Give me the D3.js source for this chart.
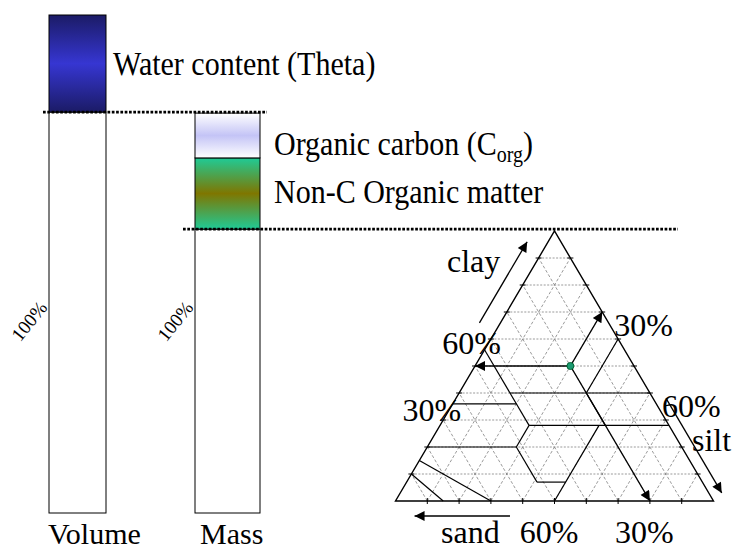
<!DOCTYPE html>
<html>
<head>
<meta charset="utf-8">
<script src="https://cdn.jsdelivr.net/npm/d3@7/dist/d3.min.js"></script>
<style>
  body { margin: 0; background: #fff; }
  text { font-family: "Liberation Serif", "Times New Roman", serif; fill: #000; }
</style>
</head>
<body>
<div class="chart"></div>
<script>
// column compositions, in % of the full volume column height
var volumeParts = [
    {name: "solid", value: 80.5},
    {name: "water", value: 19.5}
];
var massParts = [
    {name: "mineral", value: 57},
    {name: "nonC", value: 14.3},
    {name: "corg", value: 9}
];
var barNames = ["Volume", "Mass"];
var partLabels = [
    {part: "water", text: "Water content (Theta)"},
    {part: "corg", text: "Organic carbon (C", sub: "org", tail: ")"},
    {part: "nonC", text: "Non-C Organic matter"}
];

// texture triangle, points are [sand, silt, clay] in %
var gridSteps = [10, 20, 30, 40, 50, 60, 70, 80, 90];
var classLines = [
    [[44, 0, 56], [44, 28, 28]],
    [[44, 16, 40], [0, 60, 40]],
    [[64, 0, 36], [44, 20, 36]],
    [[44, 28, 28], [0, 72, 28]],
    [[20, 40, 40], [0, 40, 60]],
    [[20, 52, 28], [20, 40, 40]],
    [[44, 28, 28], [52, 28, 20]],
    [[80, 0, 20], [52, 28, 20]],
    [[52, 28, 20], [52, 41, 7]],
    [[52, 41, 7], [43, 50, 7]],
    [[22, 50, 28], [50, 50, 0]],
    [[85, 0, 15], [70, 30, 0]],
    [[90, 0, 10], [85, 15, 0]]
];
var sample = [20, 30, 50];
var clayLabels = [{text: "60%", at: 55}, {text: "30%", at: 30}];
var siltLabels = [{text: "30%", at: 30}, {text: "60%", at: 60}];
var sandLabels = [{text: "60%", at: 60}, {text: "30%", at: 30}];

var width = 744, height = 551;
var stretch = 1.13;   // the captions are a little taller than plain Times

var svg = d3.select(".chart").append("svg")
    .attr("width", width)
    .attr("height", height);

var defs = svg.append("defs");

function bandGradient(id, edge, middle) {
    var g = defs.append("linearGradient")
        .attr("id", id)
        .attr("x1", 0).attr("y1", 0).attr("x2", 0).attr("y2", 1);
    g.append("stop").attr("offset", "0%").attr("stop-color", edge);
    g.append("stop").attr("offset", "50%").attr("stop-color", middle);
    g.append("stop").attr("offset", "100%").attr("stop-color", edge);
}
bandGradient("g-water", "#1b1b66", "#3636d2");
bandGradient("g-corg", "#ffffff", "#c4c4f6");
bandGradient("g-nonC", "#1fcb96", "#7f7600");

defs.append("marker")
    .attr("id", "head")
    .attr("viewBox", "0 0 10 10")
    .attr("refX", 10).attr("refY", 5)
    .attr("markerUnits", "userSpaceOnUse")
    .attr("markerWidth", 13).attr("markerHeight", 10)
    .attr("orient", "auto")
    .append("path")
    .attr("d", "M0,0 L10,5 L0,10 Z")
    .attr("fill", "#000");

var fills = {solid: "#fff", mineral: "#fff", water: "url(#g-water)",
             corg: "url(#g-corg)", nonC: "url(#g-nonC)"};

function caption(x, y, size, str, sy) {
    return svg.append("text")
        .attr("transform", "translate(" + x + "," + y + ") scale(1," + (sy || stretch) + ")")
        .attr("font-size", size)
        .text(str);
}

// ---- columns ----
var y = d3.scaleLinear().domain([0, 100]).range([513, 15]);
var colX = d3.scaleOrdinal().domain(barNames).range([49, 195]);
var colW = d3.scaleOrdinal().domain(barNames).range([57, 65]);

function stackParts(parts) {
    var acc = 0;
    return parts.map(function(p) {
        var out = {name: p.name, y0: acc, y1: acc + p.value};
        acc += p.value;
        return out;
    });
}
var columns = [
    {name: "Volume", parts: stackParts(volumeParts)},
    {name: "Mass", parts: stackParts(massParts)}
];

columns.forEach(function(col) {
    svg.selectAll(".seg-" + col.name)
        .data(col.parts)
        .enter()
        .append("rect")
        .attr("x", colX(col.name))
        .attr("y", function(d) { return y(d.y1); })
        .attr("width", colW(col.name))
        .attr("height", function(d) { return y(d.y0) - y(d.y1); })
        .attr("fill", function(d) { return fills[d.name]; })
        .attr("stroke", "#000")
        .attr("stroke-width", 1);

    svg.append("text")
        .attr("transform", "translate(" + (colX(col.name) - 20) + ",321) rotate(-51)")
        .attr("text-anchor", "middle")
        .attr("dy", "0.35em")
        .attr("font-size", 19)
        .text("100%");
});

caption(48, 544, 30, "Volume", 1);
caption(200, 544, 30, "Mass", 1);

// dotted separators at the top of the solid part of each column
var volTop = y(volumeParts[0].value);
var massTop = y(massParts[0].value);
svg.append("line")
    .attr("x1", 43).attr("x2", 267).attr("y1", volTop).attr("y2", volTop)
    .attr("stroke", "#000").attr("stroke-width", 2.7)
    .attr("stroke-dasharray", "2.7,1.6");
svg.append("line")
    .attr("x1", 183).attr("x2", 678).attr("y1", massTop).attr("y2", massTop)
    .attr("stroke", "#000").attr("stroke-width", 2.7)
    .attr("stroke-dasharray", "2.7,1.6");

// labels next to the coloured parts
var allParts = {};
columns.forEach(function(col) {
    col.parts.forEach(function(p) { allParts[p.name] = {col: col.name, p: p}; });
});
var baselineShift = {water: 11, corg: 19, nonC: 9};
partLabels.forEach(function(l) {
    var info = allParts[l.part];
    var mid = (y(info.p.y0) + y(info.p.y1)) / 2;
    var x0 = colX(info.col) + colW(info.col) + (info.col === "Volume" ? 7 : 14);
    var t = caption(x0, mid + baselineShift[l.part], 30, l.text);
    if (l.sub) {
        t.append("tspan").attr("font-size", 20).attr("dy", 7).text(l.sub);
        t.append("tspan").attr("dy", -7).text(l.tail);
    }
});

// ---- texture triangle ----
var tx = d3.scaleLinear().domain([0, 100]).range([395.5, 713.5]);
var ty = d3.scaleLinear().domain([0, 100]).range([501, 231]);
function pt(d) { return [tx(d[1] + d[2] / 2), ty(d[2])]; }
var line = d3.line();

var tri = svg.append("g").attr("class", "ternary");

// grid
var gridLines = [];
gridSteps.forEach(function(k) {
    gridLines.push({kind: "h", a: [100 - k, 0, k], b: [0, 100 - k, k]});
    gridLines.push({kind: "d", a: [100 - k, k, 0], b: [0, k, 100 - k]});
    gridLines.push({kind: "d", a: [k, 100 - k, 0], b: [k, 0, 100 - k]});
});
tri.selectAll(".grid")
    .data(gridLines)
    .enter()
    .append("path")
    .attr("class", "grid")
    .attr("d", function(d) { return line([pt(d.a), pt(d.b)]); })
    .attr("fill", "none")
    .attr("stroke", "#808080")
    .attr("stroke-width", 0.8)
    .attr("stroke-dasharray", function(d) { return d.kind === "h" ? "2,1.5" : "3,2"; });

// class boundaries
tri.selectAll(".cls")
    .data(classLines)
    .enter()
    .append("path")
    .attr("class", "cls")
    .attr("d", function(d) { return line([pt(d[0]), pt(d[1])]); })
    .attr("fill", "none")
    .attr("stroke", "#000")
    .attr("stroke-width", 1.2);

// outline
tri.append("path")
    .attr("d", line([pt([100, 0, 0]), pt([0, 100, 0]), pt([0, 0, 100])]) + "Z")
    .attr("fill", "none")
    .attr("stroke", "#000")
    .attr("stroke-width", 1.4);

// ticks
gridSteps.forEach(function(k) {
    var b = pt([100 - k, k, 0]);
    tri.append("line").attr("x1", b[0]).attr("x2", b[0]).attr("y1", b[1] - 3).attr("y2", b[1] + 3)
        .attr("stroke", "#000");
    var l = pt([100 - k, 0, k]);
    tri.append("line").attr("x1", l[0] - 3).attr("x2", l[0] + 3).attr("y1", l[1]).attr("y2", l[1])
        .attr("stroke", "#000");
    var r = pt([0, 100 - k, k]);
    tri.append("line").attr("x1", r[0] - 3).attr("x2", r[0] + 3).attr("y1", r[1]).attr("y2", r[1])
        .attr("stroke", "#000");
});

// reading arrows from the sample point
var sp = pt(sample);
var readTo = [
    [100 - sample[2], 0, sample[2]],
    [0, sample[1], 100 - sample[1]],
    [sample[0], 100 - sample[0], 0]
];
readTo.forEach(function(d) {
    var e = pt(d);
    tri.append("line")
        .attr("x1", sp[0]).attr("y1", sp[1]).attr("x2", e[0]).attr("y2", e[1])
        .attr("stroke", "#000").attr("stroke-width", 1.4)
        .attr("marker-end", "url(#head)");
});
tri.append("circle")
    .attr("cx", sp[0]).attr("cy", sp[1]).attr("r", 3.5)
    .attr("fill", "#1b9a72").attr("stroke", "#063").attr("stroke-width", 1);

// axis arrows outside the triangle
function offsetLine(a, b, dx, dy) {
    var p = pt(a), q = pt(b);
    tri.append("line")
        .attr("x1", p[0] + dx).attr("y1", p[1] + dy)
        .attr("x2", q[0] + dx).attr("y2", q[1] + dy)
        .attr("stroke", "#000").attr("stroke-width", 1.3)
        .attr("marker-end", "url(#head)");
}
offsetLine([34, 0, 66], [4, 0, 96], -21, 0);      // clay
offsetLine([0, 62, 38], [0, 97, 3], 13, 0);       // silt
offsetLine([64, 36, 0], [94, 6, 0], 0, 15);       // sand

// axis names
var axisSize = 32;
svg.append("text").attr("x", 447).attr("y", 272).attr("font-size", axisSize).text("clay");
svg.append("text").attr("x", 692).attr("y", 451).attr("font-size", axisSize).text("silt");
svg.append("text").attr("x", 441).attr("y", 543).attr("font-size", axisSize).text("sand");

// percentage labels
clayLabels.forEach(function(d) {
    var p = pt([100 - d.at, 0, d.at]);
    svg.append("text").attr("x", p[0] + 18).attr("y", p[1] + 1)
        .attr("text-anchor", "end").attr("font-size", axisSize).text(d.text);
});
siltLabels.forEach(function(d) {
    var p = pt([0, d.at, 100 - d.at]);
    svg.append("text").attr("x", p[0] + 12).attr("y", p[1] + 24)
        .attr("font-size", axisSize).text(d.text);
});
sandLabels.forEach(function(d) {
    var p = pt([d.at, 100 - d.at, 0]);
    svg.append("text").attr("x", p[0] - 3).attr("y", 543)
        .attr("font-size", axisSize).text(d.text);
});
</script>
</body>
</html>
